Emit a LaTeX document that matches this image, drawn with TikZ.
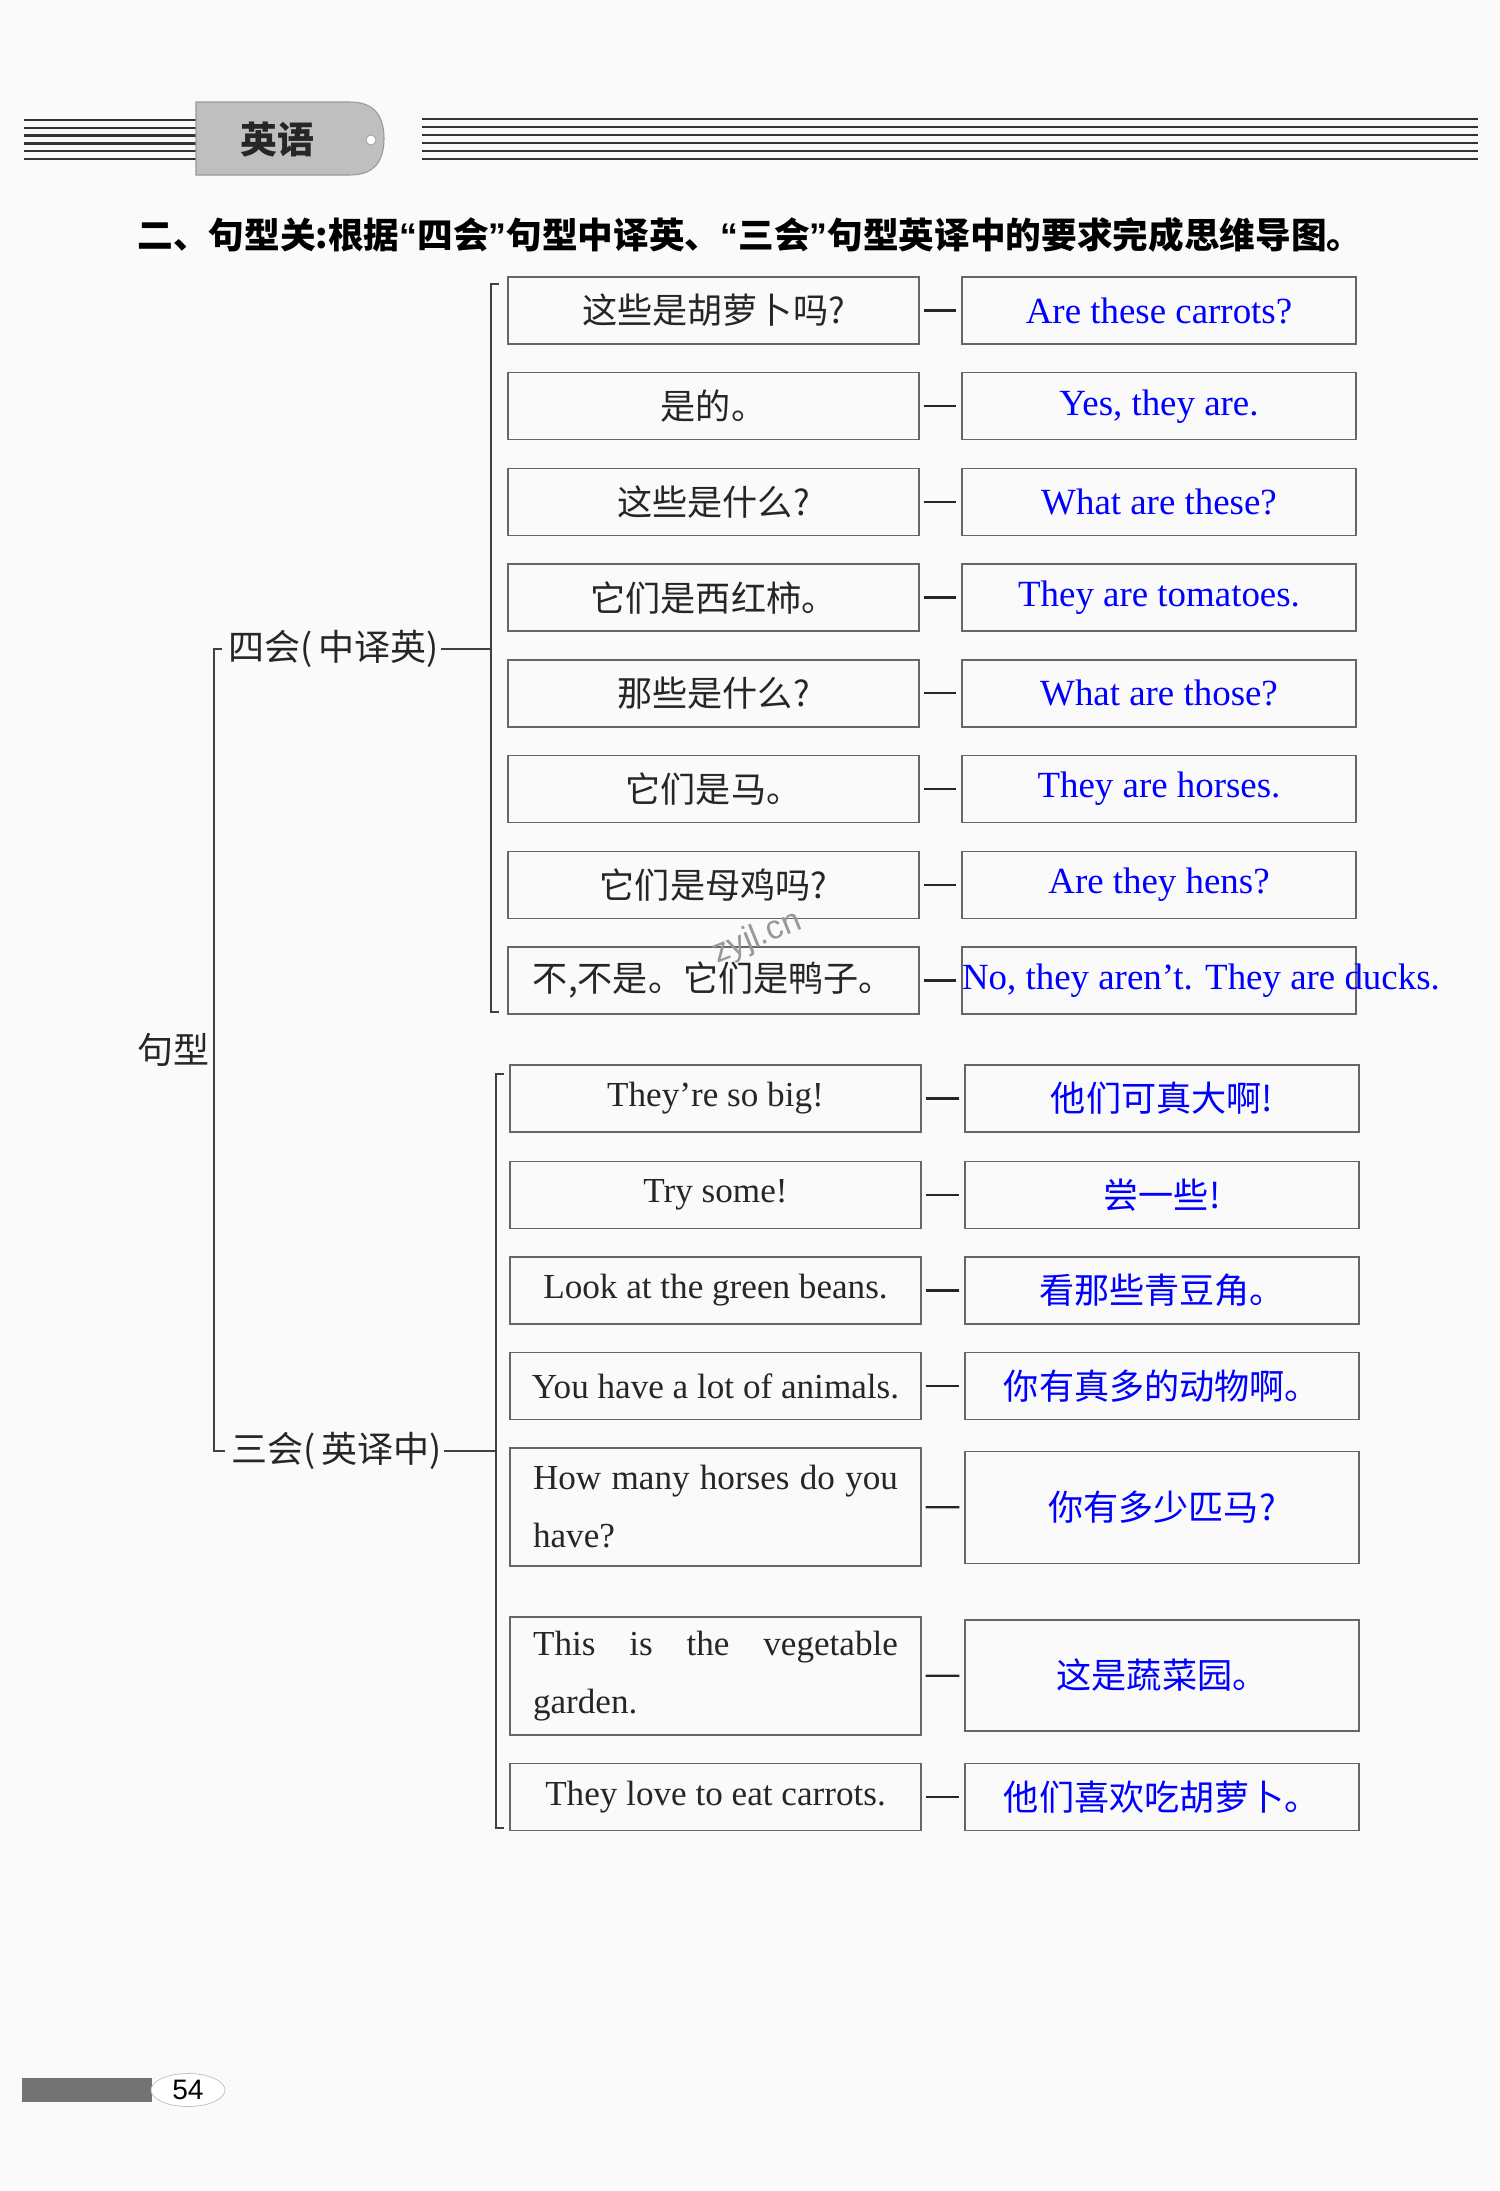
\documentclass[tikz,border=0pt]{standalone}
\usepackage{fontspec}
\setmainfont{Liberation Serif}
\newfontfamily\cjk{Noto Sans CJK SC}
\newfontfamily\numfont{Liberation Sans}
\usetikzlibrary{shapes.geometric}

\newcommand{\yinL}{{\numfont\bfseries “}}
\newcommand{\yinR}{{\numfont\bfseries ”}}

\begin{document}
\begin{tikzpicture}[
    x=0.02cm,
    y=-0.02cm,
    caja/.style={draw=black!60, line width=0.8pt, inner sep=0pt},
    zhbox/.style={caja, minimum width=8.22cm, minimum height=1.34cm,
        font=\cjk\fontsize{20}{24}\selectfont, text=black!85},
    enbox/.style={caja, minimum width=7.88cm, minimum height=1.34cm,
        font=\fontsize{21}{25}\selectfont, text=blue},
    eybox/.style={caja, minimum width=8.22cm, minimum height=1.34cm,
        font=\fontsize{20}{33}\selectfont, text=black!85},
    hybox/.style={caja, minimum width=7.88cm, minimum height=1.34cm,
        font=\cjk\fontsize{20}{24}\selectfont, text=blue},
    lianxian/.style={line width=1.3pt, black!85, shorten <=0.08cm, shorten >=0.1cm},
    kuohao/.style={line width=0.6pt, black!75},
    biaoqian/.style={font=\cjk\fontsize{20.5}{24}\selectfont, text=black!85, inner sep=1pt},
    hengxian/.style={line width=1.3pt, black!80}
]
\useasboundingbox (0,0) rectangle (1500,2191);
\fill[black!2] (0,0) rectangle (1500,2191);

% Cabecera
\foreach \k in {0,...,5}
{
    \draw[hengxian] (24,120+7.8*\k) -- (196,120+7.8*\k);
    \draw[hengxian] (422,118.7+8*\k) -- (1478,118.7+8*\k);
}
\draw[fill=black!25, draw=black!40, line width=0.6pt] (196,102) -- (350,102)
    .. controls (376,102) and (384,118) .. (384,138.5)
    .. controls (384,159) and (376,175) .. (350,175) -- (196,175) -- cycle;
\filldraw[fill=white, draw=black!40] (371,140) circle[radius=0.1cm];
\node[font=\cjk\bfseries\fontsize{21}{25}\selectfont, text=black!85] (yingyu) at (277,140) {英语};

\node[anchor=west, inner sep=0pt, font=\cjk\bfseries\fontsize{20.3}{24}\selectfont] (biaoti) at (137,235)
    {二、句型关:根据\yinL 四会\yinR 句型中译英、\yinL 三会\yinR 句型英译中的要求完成思维导图。};

% 四会 (中译英)
\foreach \zh/\en [count=\i] in {
    这些是胡萝卜吗?/Are these carrots?,
    是的。/{Yes, they are.},
    这些是什么?/What are these?,
    它们是西红柿。/They are tomatoes.,
    那些是什么?/What are those?,
    它们是马。/They are horses.,
    它们是母鸡吗?/Are they hens?,
    {不,不是。它们是鸭子。}/{No, they aren't. They are ducks.}}
{
    \node[zhbox] (zh\i) at (713.5,214.8+95.7*\i) {\zh};
    \ifnum\i=8
        \node[enbox] (en\i) at (1159,214.8+95.7*\i) {};
        \node[enbox, draw=none, anchor=west, minimum width=0pt] (ducks) at (en\i.west) {\en};
    \else
        \node[enbox] (en\i) at (1159,214.8+95.7*\i) {\en};
    \fi
    \draw[lianxian] (zh\i) -- (en\i);
}

% 三会 (英译中)
\foreach \k/\en/\zh/\y in {
    1/They’re so big!/他们可真大啊!/1098.5,
    2/Try some!/尝一些!/1195,
    3/Look at the green beans./看那些青豆角。/1290.5,
    4/You have a lot of animals./你有真多的动物啊。/1386,
    7/They love to eat carrots./他们喜欢吃胡萝卜。/1797}
{
    \node[eybox] (ey\k) at (715.5,\y) {\en};
    \node[hybox] (hy\k) at (1162,\y) {\zh};
    \draw[lianxian] (ey\k) -- (hy\k);
}
\node[eybox, minimum height=2.36cm, text width=7.3cm, align=justify, inner xsep=0.46cm]
    (ey5) at (715.5,1507) {How many horses do you\linebreak have?};
\node[hybox, minimum height=2.24cm] (hy5) at (1162,1507.5) {你有多少匹马?};
\draw[lianxian] (ey5) -- (hy5);
\node[eybox, minimum height=2.36cm, text width=7.3cm, align=justify, inner xsep=0.46cm]
    (ey6) at (715.5,1676) {This is the vegetable\linebreak garden.};
\node[hybox, minimum height=2.22cm] (hy6) at (1162,1675.5) {这是蔬菜园。};
\draw[lianxian] (ey6) -- (hy6);

% Corchetes
\coordinate (k1s) at (491,284);
\coordinate (k1x) at (491,1012);
\coordinate (k2s) at (496,1074);
\coordinate (k2x) at (496,1828);
\draw[kuohao] (k1s) ++(8,0) -- (k1s) -- (k1x) -- ++(8,0);
\draw[kuohao] (k2s) ++(8,0) -- (k2s) -- (k2x) -- ++(8,0);

\node[biaoqian, anchor=west] (sihui) at (226,649) {四会(\,中译英)};
\node[biaoqian, anchor=west] (sanhui) at (229,1451) {三会(\,英译中)};
\node[biaoqian, anchor=east, inner sep=0.08cm] (juxing) at (214,1050) {句型};
\draw[kuohao] (sihui.east) -- (sihui.east -| k1s);
\draw[kuohao] (sanhui.east) -- (sanhui.east -| k2s);
\draw[kuohao] ([xshift=-0.08cm]sihui.west) -| (juxing.east) |- ([xshift=-0.08cm]sanhui.west);

\node[rotate=22, font=\numfont\fontsize{19}{20}\selectfont, text=black!40] (shuiyin) at (757,938) {zyjl.cn};

% Pie de página
\fill[black!55] (22,2078) rectangle (152,2102);
\node[ellipse, draw=black!25, fill=white, minimum width=1.48cm, minimum height=0.66cm,
    inner sep=0pt, font=\numfont\fontsize{16}{18}\selectfont] (yema) at (188,2090) {54};

\end{tikzpicture}
\end{document}
